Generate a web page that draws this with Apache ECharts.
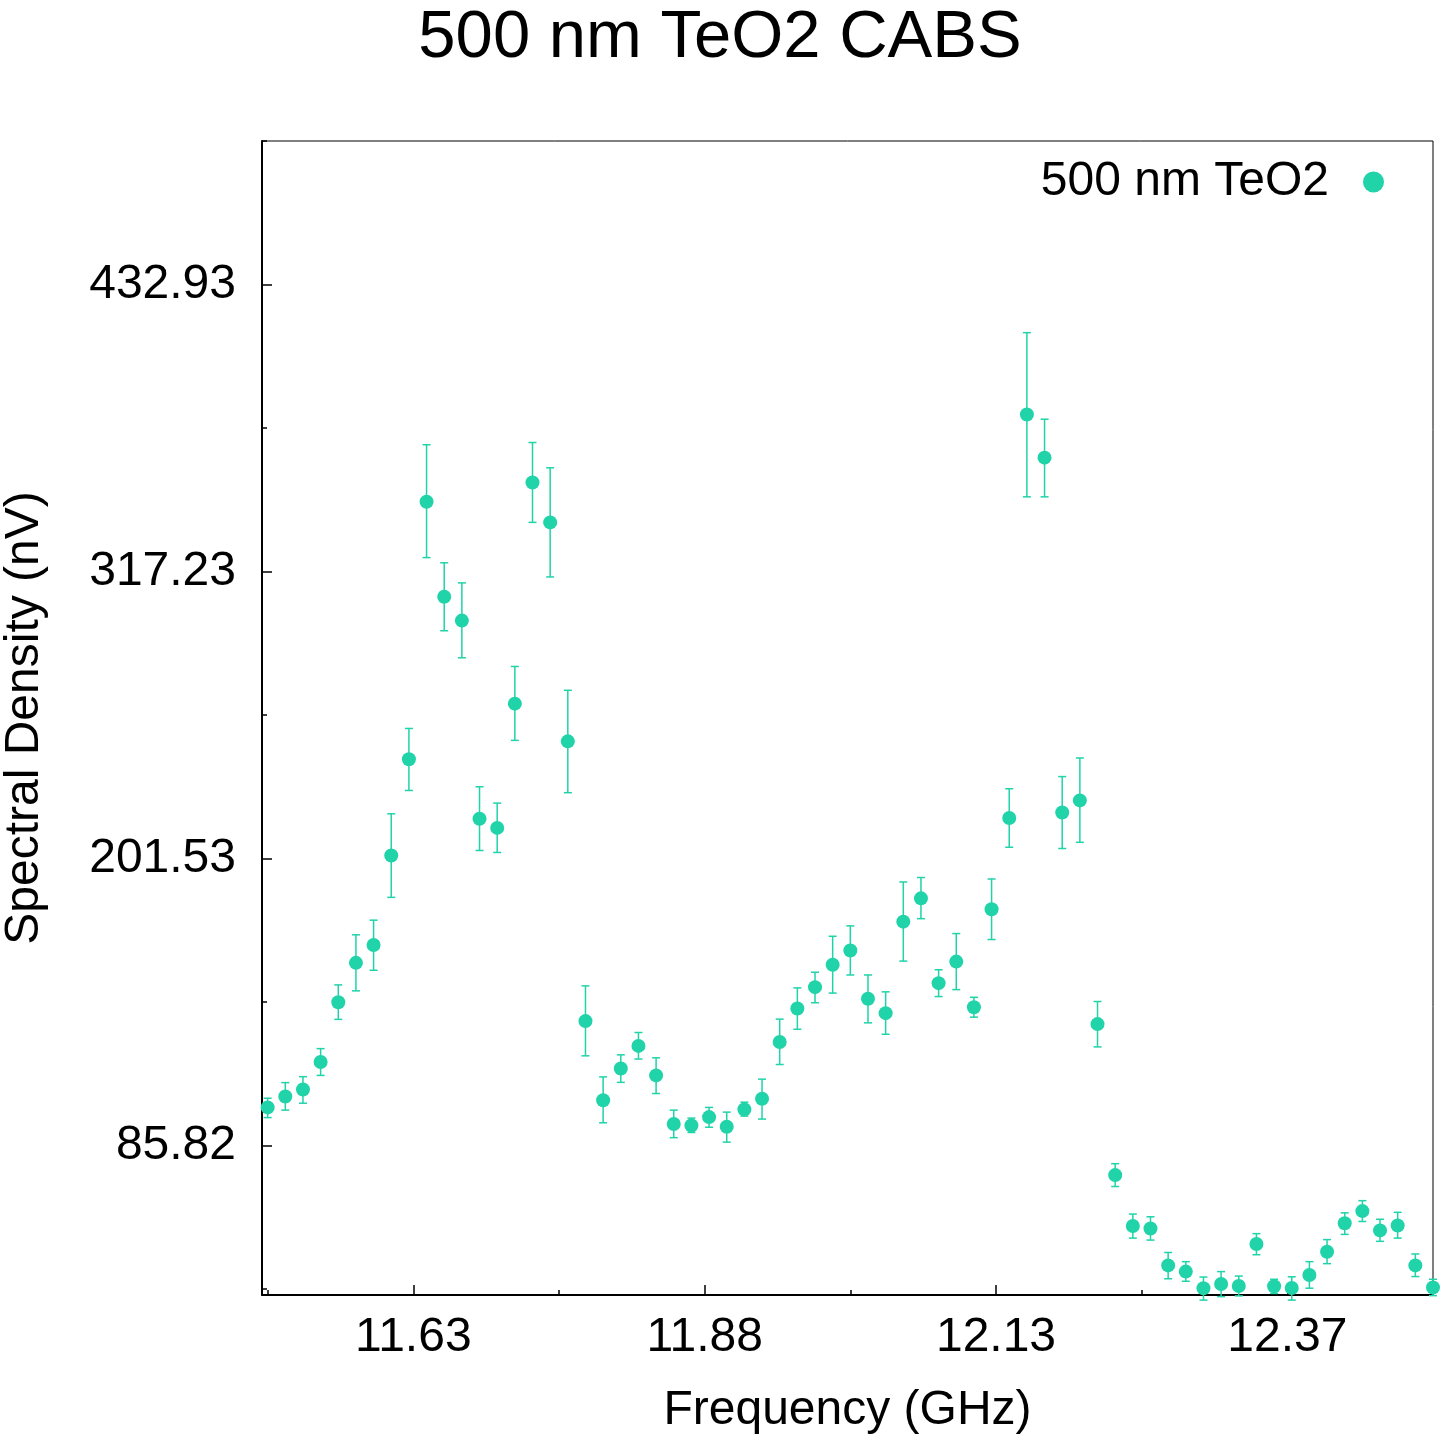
<!DOCTYPE html>
<html>
<head>
<meta charset="utf-8">
<title>500 nm TeO2 CABS</title>
<script src="https://cdn.jsdelivr.net/npm/echarts@6/dist/echarts.min.js"></script>
<style>
  html, body { margin: 0; padding: 0; background: #fff; }
  #chart { width: 1440px; height: 1440px; }
</style>
</head>
<body>
<div id="chart"></div>
<script>
// frequencies (GHz)
var freq = [
  11.508, 11.523, 11.538, 11.553, 11.568, 11.583, 11.598, 11.613, 11.628, 11.643,
  11.658, 11.673, 11.688, 11.703, 11.718, 11.733, 11.748, 11.763, 11.778, 11.793,
  11.808, 11.823, 11.838, 11.853, 11.868, 11.883, 11.898, 11.913, 11.928, 11.943,
  11.958, 11.973, 11.988, 12.003, 12.018, 12.033, 12.048, 12.063, 12.078, 12.093,
  12.108, 12.123, 12.138, 12.153, 12.168, 12.183, 12.198, 12.213, 12.228, 12.243,
  12.258, 12.273, 12.288, 12.303, 12.318, 12.333, 12.348, 12.363, 12.378, 12.393,
  12.408, 12.423, 12.438, 12.453, 12.468, 12.483, 12.498
];

// spectral density (nV)
var density = [
  101.1, 105.5, 108.3, 119.4, 143.5, 159.4, 166.6, 202.7, 241.5, 345.3,
  307.0, 297.4, 217.5, 213.8, 263.9, 353.1, 337.0, 248.7, 135.9, 104.0,
  116.8, 125.9, 114.0, 94.4, 93.8, 97.2, 93.3, 100.3, 104.6, 127.5,
  141.0, 149.6, 158.6, 164.4, 144.9, 139.1, 176.0, 185.4, 151.2, 159.9,
  141.5, 181.0, 217.8, 380.5, 363.1, 220.0, 224.9, 134.7, 73.8, 53.3,
  52.3, 37.4, 34.9, 28.2, 29.9, 29.1, 46.0, 29.0, 28.3, 33.5,
  42.9, 54.4, 59.3, 51.5, 53.5, 37.4, 28.5
];

// error bar ends
var densityLow = [
  97.0, 100.0, 102.8, 114.0, 136.6, 148.1, 156.4, 185.8, 228.9, 322.8,
  293.3, 282.4, 204.7, 203.9, 249.1, 337.0, 315.0, 228.0, 121.9, 94.9,
  111.2, 120.6, 106.7, 88.9, 91.0, 93.1, 87.1, 97.6, 96.4, 118.4,
  132.6, 143.3, 147.2, 154.5, 135.2, 130.6, 160.1, 177.2, 145.8, 148.6,
  137.5, 168.8, 206.0, 347.3, 347.3, 205.5, 208.0, 125.5, 69.2, 48.4,
  47.6, 32.0, 31.0, 23.4, 24.8, 25.1, 41.7, 26.1, 23.4, 28.2,
  38.1, 49.9, 55.1, 47.1, 48.4, 32.9, 25.2
];
var densityHigh = [
  104.8, 111.1, 113.5, 124.8, 150.5, 170.7, 176.6, 219.5, 253.9, 368.3,
  320.7, 312.6, 230.4, 223.8, 278.9, 369.2, 359.0, 269.3, 150.1, 113.4,
  122.3, 131.3, 121.1, 100.0, 96.8, 101.1, 99.2, 103.2, 112.5, 136.7,
  149.3, 155.6, 170.1, 174.3, 154.5, 147.7, 192.0, 193.8, 156.6, 171.2,
  145.5, 193.2, 229.6, 413.5, 378.6, 234.5, 242.0, 143.8, 78.4, 58.1,
  57.0, 42.6, 38.9, 32.7, 34.9, 33.1, 50.2, 31.8, 32.8, 38.9,
  47.8, 58.6, 63.5, 56.0, 58.8, 42.0, 31.8
];

// axis ticks
var xTickValues = [11.63175, 11.87925, 12.12675, 12.37425];
var xTickLabels = ["11.63", "11.88", "12.13", "12.37"];
var xMinorTicks = [11.508, 11.75550, 12.00300, 12.25050, 12.498];
var yTickValues = [85.82, 201.53, 317.23, 432.93];
var yTickLabels = ["85.82", "201.53", "317.23", "432.93"];
var yMinorTicks = [27.97, 143.675, 259.38, 375.08, 490.78];

var seriesName = "500 nm TeO2";
var color = "#20d3a9";
var font = "Liberation Sans, Arial, sans-serif";

function pickLabel(values, labels, v) {
  var best = 0;
  for (var i = 1; i < values.length; i++) {
    if (Math.abs(values[i] - v) < Math.abs(values[best] - v)) best = i;
  }
  return labels[best];
}

var points = freq.map(function (f, i) {
  return [f, density[i]];
});
var bars = freq.map(function (f, i) {
  return [f, densityLow[i], densityHigh[i]];
});

function renderErrorBar(params, api) {
  var x = api.value(0);
  var lo = api.coord([x, api.value(1)]);
  var hi = api.coord([x, api.value(2)]);
  var cap = 4;
  var style = { stroke: color, lineWidth: 1.5, fill: null };
  return {
    type: "group",
    children: [
      { type: "line", shape: { x1: lo[0], y1: lo[1], x2: hi[0], y2: hi[1] }, style: style },
      { type: "line", shape: { x1: lo[0] - cap, y1: lo[1], x2: lo[0] + cap, y2: lo[1] }, style: style },
      { type: "line", shape: { x1: hi[0] - cap, y1: hi[1], x2: hi[0] + cap, y2: hi[1] }, style: style },
    ],
  };
}

var chart = echarts.init(document.getElementById("chart"));
var option = {
  backgroundColor: "#fff",
  animation: false,
  title: {
    text: "500 nm TeO2 CABS",
    left: "center",
    top: 0,
    textStyle: { fontFamily: font, fontSize: 67, fontWeight: "normal", color: "#000" },
  },
  legend: {
    data: [seriesName],
    right: 56,
    top: 158,
    padding: 0,
    align: "right",
    icon: "circle",
    itemWidth: 21,
    itemHeight: 21,
    textStyle: { fontFamily: font, fontSize: 48, color: "#000", padding: [0, 29, 0, 0] },
  },
  grid: {
    left: 262,
    right: 7,
    top: 141,
    bottom: 145,
    outerBoundsMode: "none",
    show: true,
    borderColor: "#000",
    borderWidth: 1,
  },
  xAxis: [
    {
      type: "value",
      min: 11.5032,
      max: 12.498,
      position: "bottom",
      splitLine: { show: false },
      axisLine: { show: true, lineStyle: { color: "#000", width: 2 } },
      axisTick: {
        show: true,
        inside: true,
        length: 10,
        customValues: xTickValues,
        lineStyle: { color: "#000", width: 1.5 },
      },
      axisLabel: {
        customValues: xTickValues,
        formatter: function (v) {
          return pickLabel(xTickValues, xTickLabels, v);
        },
        fontFamily: font,
        fontSize: 48,
        color: "#000",
        margin: 19,
      },
      name: "Frequency (GHz)",
      nameLocation: "middle",
      nameGap: 92,
      nameTextStyle: { fontFamily: font, fontSize: 48, color: "#000" },
    },
    {
      type: "value",
      min: 11.5032,
      max: 12.498,
      position: "bottom",
      splitLine: { show: false },
      axisLine: { show: false },
      axisLabel: { show: false },
      axisTick: {
        show: true,
        inside: true,
        length: 5,
        customValues: xMinorTicks,
        lineStyle: { color: "#000", width: 1.5 },
      },
    },
  ],
  yAxis: [
    {
      type: "value",
      min: 25.46,
      max: 490.78,
      position: "left",
      splitLine: { show: false },
      axisLine: { show: true, lineStyle: { color: "#000", width: 2 } },
      axisTick: {
        show: true,
        inside: true,
        length: 10,
        customValues: yTickValues,
        lineStyle: { color: "#000", width: 1.5 },
      },
      axisLabel: {
        customValues: yTickValues,
        formatter: function (v) {
          return pickLabel(yTickValues, yTickLabels, v);
        },
        fontFamily: font,
        fontSize: 48,
        color: "#000",
        margin: 26,
      },
      name: "Spectral Density (nV)",
      nameLocation: "middle",
      nameRotate: 90,
      nameGap: 213,
      nameTextStyle: { fontFamily: font, fontSize: 48, color: "#000" },
    },
    {
      type: "value",
      min: 25.46,
      max: 490.78,
      position: "left",
      splitLine: { show: false },
      axisLine: { show: false },
      axisLabel: { show: false },
      axisTick: {
        show: true,
        inside: true,
        length: 5,
        customValues: yMinorTicks,
        lineStyle: { color: "#000", width: 1.5 },
      },
    },
  ],
  series: [
    {
      type: "custom",
      name: "errors",
      renderItem: renderErrorBar,
      data: bars,
      clip: false,
      z: 2,
      encode: { x: 0, y: [1, 2] },
    },
    {
      type: "scatter",
      name: seriesName,
      data: points,
      symbol: "circle",
      symbolSize: 14,
      clip: false,
      itemStyle: { color: color, opacity: 1 },
      z: 3,
    },
  ],
};
chart.setOption(option);
</script>
</body>
</html>
